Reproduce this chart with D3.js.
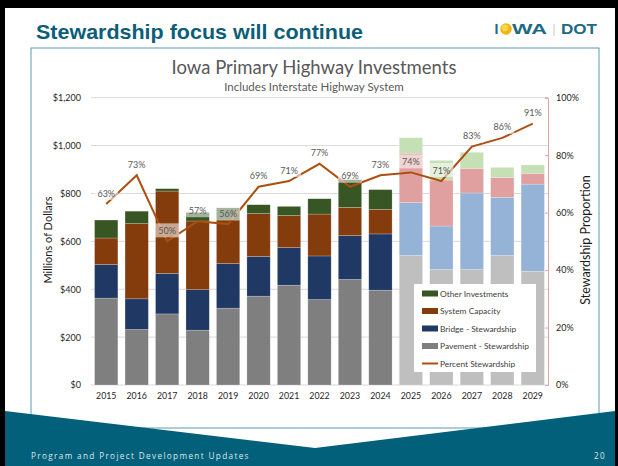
<!DOCTYPE html>
<html>
<head>
<meta charset="utf-8">
<script src="https://cdn.jsdelivr.net/npm/d3@7"></script>
<style>
  body { margin: 0; background: #000; }
  svg { display: block; }
</style>
</head>
<body>
<svg id="slide" width="618" height="466"></svg>
<script>

// chart data (millions of dollars)
var years = [2015, 2016, 2017, 2018, 2019, 2020, 2021, 2022, 2023, 2024, 2025, 2026, 2027, 2028, 2029];
var pavement = [363, 232, 297, 229, 321, 371, 417, 357, 441, 396, 541, 482, 482, 541, 475];
var bridge   = [140, 128, 169, 169, 186, 166, 157, 182, 183, 235, 221, 182, 320, 243, 364];
var capacity = [111, 314, 344, 287, 182, 179, 134, 175, 118, 102, 206, 192, 103,  83,  45];
var other    = [ 75,  52,  10,  36,  51,  37,  38,  64, 116,  83,  65,  82,  67,  42,  35];
var pctStewardship = [63, 73, 50, 57, 56, 69, 71, 77, 69, 73, 74, 71, 83, 86, 91];
var firstProjectedYear = 2025;

var dollarTicks = [0, 200, 400, 600, 800, 1000, 1200];
var pctTicks = [0, 0.2, 0.4, 0.6, 0.8, 1];

var seriesKeys = ['pavement', 'bridge', 'capacity', 'other'];
var seriesNames = {
  other: 'Other Investments',
  capacity: 'System Capacity',
  bridge: 'Bridge - Stewardship',
  pavement: 'Pavement - Stewardship'
};
var colors = {
  pavement: '#7f7f7f', bridge: '#1f3864', capacity: '#843c0c', other: '#375623'
};
var projColors = {
  pavement: '#bfbfbf', bridge: '#95b3d7', capacity: '#e0a09f', other: '#c5e0b4'
};
var lineColor = '#ad4f10';
var teal = '#03607a';

var svg = d3.select('#slide');

// slide background
svg.append('rect').attr('x', 0).attr('y', 0).attr('width', 618).attr('height', 466).attr('fill', '#000');
svg.append('rect').attr('x', 5).attr('y', 8).attr('width', 610).attr('height', 458).attr('fill', '#fff');

svg.append('text')
  .attr('x', 36).attr('y', 39)
  .attr('textLength', 327).attr('lengthAdjust', 'spacingAndGlyphs')
  .style('font-family', 'Liberation Sans, Arial, sans-serif')
  .style('font-weight', 'bold').style('font-size', '21px')
  .attr('fill', '#0b5e78')
  .text('Stewardship focus will continue');

// IOWA | DOT logo
var logo = svg.append('g')
  .style('font-family', 'Liberation Sans, Arial, sans-serif')
  .style('font-weight', 'bold').style('font-size', '14px')
  .attr('fill', '#1c6b82');
logo.append('text').attr('x', 494.5).attr('y', 34).text('I');
logo.append('circle').attr('cx', 506).attr('cy', 29).attr('r', 5.8).attr('fill', '#f2b21a');
logo.append('circle').attr('cx', 505).attr('cy', 27.8).attr('r', 3.4).attr('fill', '#f8d64a');
logo.append('text').attr('x', 512).attr('y', 34)
  .attr('textLength', 35).attr('lengthAdjust', 'spacingAndGlyphs').text('WA');
logo.append('line').attr('x1', 554).attr('x2', 554).attr('y1', 24).attr('y2', 36)
  .attr('stroke', '#c8c8c8').attr('stroke-width', 1);
logo.append('text').attr('x', 561).attr('y', 34)
  .attr('textLength', 36).attr('lengthAdjust', 'spacingAndGlyphs').text('DOT');

// chart frame
svg.append('rect')
  .attr('x', 31).attr('y', 48).attr('width', 568).attr('height', 380)
  .attr('fill', '#fff').attr('stroke', '#5b9bb0').attr('stroke-width', 1);

svg.append('text')
  .attr('x', 314).attr('y', 74).attr('text-anchor', 'middle')
  .style('font-family', 'Lato, sans-serif').style('font-size', '18.5px')
  .attr('fill', '#595959')
  .text('Iowa Primary Highway Investments');
svg.append('text')
  .attr('x', 314).attr('y', 91).attr('text-anchor', 'middle')
  .style('font-family', 'Lato, sans-serif').style('font-size', '11.5px')
  .attr('fill', '#595959')
  .text('Includes Interstate Highway System');

// scales
var plotLeft = 91, plotRight = 548, plotTop = 97.7, plotBottom = 385;

var x = d3.scaleBand()
  .domain(years)
  .range([plotLeft, plotRight])
  .paddingInner(0.235)
  .paddingOuter(0.1175);

var y = d3.scaleLinear().domain([0, 1200]).range([plotBottom, plotTop]);
var yPct = d3.scaleLinear().domain([0, 1]).range([plotBottom, plotTop]);

// gridlines
svg.append('g').selectAll('line')
  .data(dollarTicks)
  .enter().append('line')
  .attr('x1', plotLeft).attr('x2', plotRight)
  .attr('y1', function(d) { return y(d); })
  .attr('y2', function(d) { return y(d); })
  .attr('stroke', '#d9d9d9').attr('stroke-width', 1);

// stacked bars
var table = years.map(function(yr, i) {
  return { year: yr, pavement: pavement[i], bridge: bridge[i], capacity: capacity[i], other: other[i] };
});
var stacked = d3.stack().keys(seriesKeys)(table);

var layers = svg.append('g').selectAll('g')
  .data(stacked)
  .enter().append('g');

layers.selectAll('rect')
  .data(function(layer) {
    return layer.map(function(d) { return { key: layer.key, d: d }; });
  })
  .enter().append('rect')
  .attr('x', function(e) { return x(e.d.data.year); })
  .attr('width', x.bandwidth())
  .attr('y', function(e) { return y(e.d[1]); })
  .attr('height', function(e) { return y(e.d[0]) - y(e.d[1]); })
  .attr('fill', function(e) {
    return e.d.data.year >= firstProjectedYear ? projColors[e.key] : colors[e.key];
  })
  .attr('stroke', 'rgba(255,255,255,0.35)').attr('stroke-width', 0.6);

// left axis
var yAxis = svg.append('g')
  .attr('transform', 'translate(' + plotLeft + ',0)')
  .call(d3.axisLeft(y).tickValues(dollarTicks).tickSize(0).tickPadding(10)
    .tickFormat(function(d) { return '$' + d3.format(',')(d); }));
yAxis.select('.domain').remove();
yAxis.selectAll('text')
  .style('font-family', 'Lato, sans-serif').style('font-size', '9px').attr('fill', '#262626');

// right axis
var rAxis = svg.append('g')
  .attr('transform', 'translate(' + plotRight + ',0)')
  .call(d3.axisRight(yPct).tickValues(pctTicks).tickSizeInner(-3).tickSizeOuter(-3).tickPadding(8)
    .tickFormat(d3.format('.0%')));
rAxis.selectAll('path, line').attr('stroke', '#e4a3a3');
rAxis.selectAll('text')
  .style('font-family', 'Lato, sans-serif').style('font-size', '9px').attr('fill', '#262626');

// x axis labels
var xAxis = svg.append('g')
  .attr('transform', 'translate(0,' + (plotBottom + 4) + ')')
  .call(d3.axisBottom(x).tickSize(0).tickPadding(4));
xAxis.select('.domain').remove();
xAxis.selectAll('text')
  .style('font-family', 'Lato, sans-serif').style('font-size', '8.8px').attr('fill', '#262626');

// axis titles
svg.append('text')
  .attr('transform', 'translate(47,240) rotate(-90)')
  .attr('text-anchor', 'middle').attr('dominant-baseline', 'central')
  .style('font-family', 'Lato, sans-serif').style('font-size', '11px')
  .attr('fill', '#1a1a1a')
  .text('Millions of Dollars');
svg.append('text')
  .attr('transform', 'translate(585,240) rotate(-90)')
  .attr('text-anchor', 'middle').attr('dominant-baseline', 'central')
  .style('font-family', 'Lato, sans-serif').style('font-size', '12.5px')
  .attr('fill', '#1a1a1a')
  .text('Stewardship Proportion');

// percent stewardship line
var pctLine = d3.line()
  .x(function(d, i) { return x(years[i]) + x.bandwidth() / 2; })
  .y(function(d) { return yPct(d / 100); });

svg.append('path')
  .datum(pctStewardship)
  .attr('d', pctLine)
  .attr('fill', 'none')
  .attr('stroke', lineColor).attr('stroke-width', 2);

// data labels
var labels = svg.append('g').selectAll('g')
  .data(pctStewardship)
  .enter().append('g')
  .attr('transform', function(d, i) {
    return 'translate(' + (x(years[i]) + x.bandwidth() / 2) + ',' + (yPct(d / 100) - 11) + ')';
  });
labels.append('rect')
  .attr('x', -12).attr('y', -7).attr('width', 24).attr('height', 14)
  .attr('fill', '#fff').attr('fill-opacity', 0.55);
labels.append('text')
  .attr('text-anchor', 'middle').attr('dominant-baseline', 'central')
  .style('font-family', 'Lato, sans-serif').style('font-size', '9px')
  .attr('fill', '#595959')
  .text(function(d) { return d + '%'; });

// legend
var legend = svg.append('g');
legend.append('rect')
  .attr('x', 414).attr('y', 284).attr('width', 122).attr('height', 88)
  .attr('fill', '#fff');

var legendItems = ['other', 'capacity', 'bridge', 'pavement', 'line'];
var rows = legend.selectAll('g.item')
  .data(legendItems)
  .enter().append('g')
  .attr('class', 'item')
  .attr('transform', function(d, i) { return 'translate(0,' + (293.5 + i * 17.5) + ')'; });

rows.each(function(d) {
  var g = d3.select(this);
  if (d === 'line') {
    g.append('line').attr('x1', 422).attr('x2', 438).attr('y1', 0).attr('y2', 0)
      .attr('stroke', lineColor).attr('stroke-width', 2);
  } else {
    g.append('rect').attr('x', 422).attr('y', -3).attr('width', 16).attr('height', 6)
      .attr('fill', colors[d]);
  }
  g.append('text')
    .attr('x', 440).attr('y', 0).attr('dominant-baseline', 'central')
    .style('font-family', 'Lato, sans-serif').style('font-size', '8.4px')
    .attr('fill', '#404040')
    .text(d === 'line' ? 'Percent Stewardship' : seriesNames[d]);
});

// footer band
svg.append('path')
  .attr('d', 'M5,411 L315,448 L615,411 L615,466 L5,466 Z')
  .attr('fill', teal);

svg.append('text')
  .attr('x', 31).attr('y', 459)
  .style('font-family', 'Open Sans, sans-serif').style('font-size', '8.2px')
  .style('letter-spacing', '1.35px')
  .attr('fill', '#dde7eb')
  .text('Program and Project Development Updates');
svg.append('text')
  .attr('x', 606).attr('y', 459).attr('text-anchor', 'end')
  .style('font-family', 'Open Sans, sans-serif').style('font-size', '8.2px')
  .style('letter-spacing', '1.35px')
  .attr('fill', '#dde7eb')
  .text('20');

</script>
</body>
</html>
